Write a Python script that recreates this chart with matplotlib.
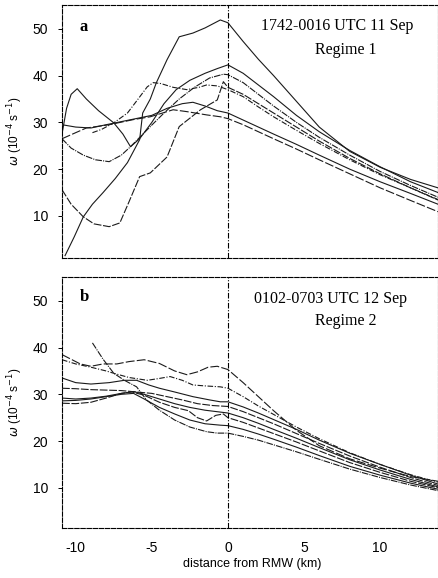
import matplotlib.pyplot as plt

plt.rcParams['axes.unicode_minus'] = False

# shared x positions outside the RMW (km)
out_x = [1, 2, 3, 4.5, 6, 8, 10, 12, 13.8]

# ---- panel a: 1742-0016 UTC 11 Sep (regime 1) ----
a1_x = [-10.7, -10.1, -9.5, -8.9, -8.2, -7.4, -6.6, -5.8, -5.6, -5.1, -4.7, -4.0, -3.2, -2.3, -1.5, -0.5, 0]
a1_y = [1.5, 5.5, 9.8, 12.5, 15.0, 18.0, 21.4, 26.3, 32.0, 35.0, 38.5, 43.4, 48.3, 49.1, 50.2, 51.9, 51.3]
a1_out = [47.3, 43.5, 40.0, 34.5, 29.0, 23.8, 20.4, 17.8, 16.0]

a2_x = [-10.9, -10.3, -9.5, -8.8, -7.8, -7.1, -6.5, -5.8, -5.1, -4.0, -3.2, -1.8, -0.7, -0.3, 0]
a2_y = [15.6, 12.5, 9.8, 8.3, 7.7, 8.5, 13.0, 18.4, 19.2, 22.6, 29.1, 32.7, 34.8, 38.7, 37.5]
a2_out = [36.0, 34.0, 32.0, 29.0, 26.0, 22.3, 19.0, 16.0, 13.4]

a3_x = [-10.9, -10.6, -10.3, -9.9, -9.3, -8.5, -7.5, -6.9, -6.4, -5.8, -5.0, -4.2, -3.4, -2.5, -1.5, -0.7, 0]
a3_y = [27.5, 33.0, 36.0, 37.2, 35.0, 32.5, 29.9, 27.5, 24.8, 26.5, 30.0, 34.0, 37.0, 39.0, 40.5, 41.5, 42.3]
a3_out = [40.5, 38.0, 35.5, 31.5, 28.0, 24.0, 20.5, 17.3, 15.0]

a4_x = [-10.9, -10.3, -9.5, -8.7, -7.8, -7.0, -6.4, -5.1, -4.2, -3.2, -2.2, -1.2, -0.3, 0]
a4_y = [26.5, 24.5, 23.0, 22.0, 21.6, 23.0, 24.8, 29.1, 32.0, 35.0, 37.5, 39.5, 40.3, 40.2]
a4_out = [38.5, 36.0, 33.5, 30.0, 26.8, 23.0, 19.5, 16.5, 14.0]

a5_x = [-10.9, -10.0, -9.3, -7.8, -6.2, -5.1, -3.6, -2.7, -1.4, -0.5, 0]
a5_y = [26.5, 27.8, 28.8, 29.5, 30.6, 31.2, 32.7, 32.3, 31.6, 31.2, 30.8]
a5_out = [29.5, 28.0, 26.5, 24.3, 22.0, 19.0, 16.0, 13.3, 10.9]

a6_x = [-8.9, -8.3, -7.5, -6.6, -5.9, -5.3, -4.9, -4.4, -3.6, -2.7, -1.9, -1.4, -0.7, 0]
a6_y = [27.8, 28.5, 29.9, 32.0, 35.0, 37.6, 38.5, 38.3, 37.5, 37.0, 37.5, 38.0, 37.8, 37.0]
a6_out = [35.5, 33.3, 31.2, 28.3, 25.5, 22.0, 18.8, 16.0, 13.5]

a7_x = [-10.9, -10.0, -9.0, -8.0, -6.5, -5.0, -4.0, -3.0, -2.3, -1.5, -0.7, 0]
a7_y = [29.5, 29.0, 28.8, 29.5, 30.5, 31.5, 33.0, 34.0, 34.3, 33.5, 32.5, 32.0]
a7_out = [30.5, 29.0, 27.5, 25.3, 23.0, 20.0, 17.3, 14.8, 12.5]

# ---- panel b: 0102-0703 UTC 12 Sep (regime 2) ----
b1_x = [-8.9, -8.2, -7.5, -6.8, -6.0, -5.35, -4.5, -3.5, -2.5, -1.4, -0.7, 0]
b1_y = [41.0, 37.5, 34.5, 33.0, 31.6, 28.8, 26.6, 24.5, 23.0, 22.0, 21.7, 21.7]
b1_out = [21.0, 20.2, 19.2, 17.7, 16.1, 14.0, 12.2, 10.6, 9.4]

b2_x = [-10.9, -10.3, -9.7, -9.0, -8.2, -7.3, -6.5, -5.5, -4.5, -3.5, -2.7, -2.0, -1.3, -0.7, 0]
b2_y = [38.5, 37.5, 36.5, 36.0, 36.5, 36.5, 37.0, 37.4, 36.6, 35.0, 34.2, 34.8, 35.8, 36.0, 35.3]
b2_out = [32.5, 29.5, 26.5, 22.3, 19.0, 16.2, 14.2, 12.4, 11.4]

b3_x = [-10.9, -10.0, -9.0, -8.0, -7.5, -6.5, -5.3, -4.5, -3.8, -3.0, -2.3, -1.5, -0.5, 0]
b3_y = [37.4, 36.5, 35.8, 35.0, 34.5, 33.6, 33.0, 33.4, 33.8, 33.0, 32.0, 31.8, 31.6, 31.3]
b3_out = [29.5, 27.5, 25.7, 23.0, 20.5, 17.5, 15.0, 12.8, 11.2]

b4_x = [-10.9, -10.0, -9.0, -7.8, -6.8, -6.0, -5.2, -4.5, -3.5, -2.3, -1.2, -0.5, 0]
b4_y = [33.5, 32.5, 32.2, 32.5, 33.0, 33.0, 32.0, 31.3, 30.5, 29.5, 28.8, 28.4, 28.4]
b4_out = [27.3, 26.0, 24.6, 22.5, 20.2, 17.4, 15.0, 12.7, 10.8]

b5_x = [-10.9, -10.0, -9.0, -8.0, -7.0, -6.0, -5.0, -4.0, -3.0, -2.0, -1.0, 0]
b5_y = [31.3, 31.2, 31.0, 30.9, 30.8, 30.5, 30.2, 29.5, 28.8, 28.0, 27.6, 27.4]
b5_out = [26.3, 25.0, 23.7, 21.6, 19.5, 16.8, 14.4, 12.2, 10.5]

b6_x = [-10.9, -10.0, -9.0, -8.0, -7.0, -6.2, -5.5, -4.5, -3.5, -2.5, -1.5, -0.5, 0]
b6_y = [29.2, 29.0, 29.2, 29.6, 30.2, 30.6, 30.0, 29.0, 28.0, 27.2, 26.6, 26.2, 26.0]
b6_out = [25.0, 23.8, 22.5, 20.6, 18.6, 16.0, 13.8, 11.8, 10.2]

b7_x = [-10.9, -10.0, -9.0, -8.0, -7.0, -6.3, -5.5, -4.5, -3.5, -2.6, -2.0, -1.4, -0.8, -0.3, 0]
b7_y = [28.1, 28.0, 28.3, 29.2, 30.2, 30.5, 29.8, 28.3, 27.2, 26.5, 25.0, 24.3, 25.5, 25.8, 25.0]
b7_out = [24.0, 22.8, 21.6, 19.8, 17.9, 15.4, 13.3, 11.4, 10.0]

b8_x = [-10.9, -10.0, -9.0, -8.0, -7.0, -6.2, -5.5, -4.5, -3.5, -2.5, -1.5, -0.5, 0]
b8_y = [28.6, 28.7, 29.0, 29.5, 30.0, 30.2, 29.0, 27.2, 25.8, 24.5, 23.7, 23.4, 23.3]
b8_out = [22.5, 21.5, 20.4, 18.7, 16.9, 14.6, 12.7, 11.0, 9.7]

curves_a = [(a1_x, a1_y, a1_out), (a2_x, a2_y, a2_out), (a3_x, a3_y, a3_out),
            (a4_x, a4_y, a4_out), (a5_x, a5_y, a5_out), (a6_x, a6_y, a6_out),
            (a7_x, a7_y, a7_out)]
curves_b = [(b1_x, b1_y, b1_out), (b2_x, b2_y, b2_out), (b3_x, b3_y, b3_out),
            (b4_x, b4_y, b4_out), (b5_x, b5_y, b5_out), (b6_x, b6_y, b6_out),
            (b7_x, b7_y, b7_out), (b8_x, b8_y, b8_out)]

y_ticks = [10, 20, 30, 40, 50]
x_ticks = [-10, -5, 0, 5, 10]

# scanned-look line styles
styles = ['-', (0, (7, 1.5)), '-', (0, (6, 1, 1, 1)), (0, (8, 2)), (0, (5, 1.5, 1, 1.5)), '-', (0, (7, 1.5))]

W, H = 438, 578
fig = plt.figure(figsize=(W / 100, H / 100), dpi=100)


def px_box(left, top, right, bottom):
    return [left / W, 1 - bottom / H, (right - left) / W, (bottom - top) / H]


def setup_axes(ax, ylim, show_x):
    ax.set_xlim(-10.9, 13.8)
    ax.set_ylim(*ylim)
    ax.set_yticks(y_ticks)
    ax.set_xticks(x_ticks)
    for s in ax.spines.values():
        s.set_linestyle((0, (4, 1.5)))
        s.set_linewidth(0.8)
    ax.tick_params(axis='y', direction='out', length=3, width=0.7, pad=7, labelsize=10)
    ax.tick_params(axis='x', direction='in', length=0, pad=9, labelsize=10,
                   labelbottom=show_x)
    for lab in ax.get_yticklabels() + ax.get_xticklabels():
        lab.set_family('Liberation Sans')
    ax.axvline(0, color='black', lw=0.8, ls=(0, (5, 1.5, 1, 1.5)))
    ax.set_ylabel(r'$\omega$ (10$^{-4}$ s$^{-1}$)', fontsize=8.5, family='Liberation Sans')
    ax.yaxis.set_label_coords(-0.098, 0.5)


ax_a = fig.add_axes(px_box(62, 5, 438, 258))
ax_b = fig.add_axes(px_box(62, 277, 438, 528))

for i, (x, y, yo) in enumerate(curves_a):
    ax_a.plot(x + out_x, y + yo, color='#1a1a1a', lw=0.8, ls=styles[i % len(styles)])
for i, (x, y, yo) in enumerate(curves_b):
    ax_b.plot(x + out_x, y + yo, color='#1a1a1a', lw=0.8, ls=styles[(i + 3) % len(styles)])

setup_axes(ax_a, (1.0, 55.1), False)
setup_axes(ax_b, (1.4, 55.1), True)

serif = 'Liberation Serif'
fig.text(80 / W, 1 - 27 / H, 'a', family=serif, weight='bold', fontsize=12, va='center')
fig.text(80 / W, 1 - 297 / H, 'b', family=serif, weight='bold', fontsize=12, va='center')
fig.text(337 / W, 1 - 26 / H, '1742-0016 UTC 11 Sep', family=serif, fontsize=11.5,
         ha='center', va='center')
fig.text(346 / W, 1 - 50 / H, 'Regime 1', family=serif, fontsize=11.5, ha='center', va='center')
fig.text(331 / W, 1 - 299 / H, '0102-0703 UTC 12 Sep', family=serif, fontsize=11.5,
         ha='center', va='center')
fig.text(346 / W, 1 - 321 / H, 'Regime 2', family=serif, fontsize=11.5, ha='center', va='center')

fig.text(252 / W, 1 - 564 / H, 'distance from RMW (km)', family='Liberation Sans',
         fontsize=9, ha='center', va='center')

fig.savefig('out.png', dpi=100)
